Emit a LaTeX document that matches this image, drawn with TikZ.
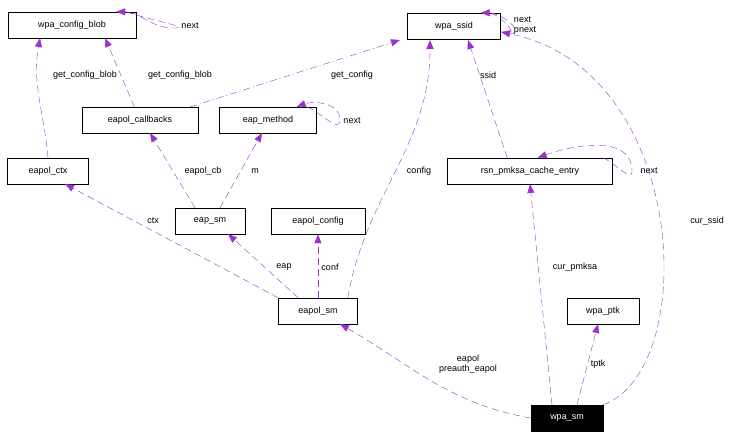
\documentclass[tikz,border=0pt]{standalone}
\usepackage{fontspec}
\setmainfont{Liberation Sans}
\usetikzlibrary{arrows.meta,positioning}
\definecolor{refColor}{HTML}{9A32CD}
\tikzset{
	cls/.style={draw, fill=white, inner sep=0pt, minimum height=26pt, font=\fontsize{9}{10}\selectfont},
	ref/.style={draw=refColor, dash pattern=on 7pt off 4pt, -{Triangle[length=9pt,width=7pt,fill=refColor]}},
	lab/.style={font=\fontsize{9}{10}\selectfont, inner sep=1pt, align=center}
}
\begin{document}
\begin{tikzpicture}[x=1pt,y=-1pt]
	\useasboundingbox (0,0) rectangle (739,437);
	% classes
	\node[cls, minimum width=128pt] (blob) at (72,25) {wpa\_config\_blob};
	\node[cls, minimum width=93pt] (ssid) at (454,26) {wpa\_ssid};
	\node[cls, minimum width=116pt] (cb) at (140,120) {eapol\_callbacks};
	\node[cls, minimum width=97pt] (method) at (268,120) {eap\_method};
	\node[cls, minimum width=81pt] (ctx) at (48,171) {eapol\_ctx};
	\node[cls, minimum width=165pt] (pmksa) at (530,171) {rsn\_pmksa\_cache\_entry};
	\node[cls, minimum width=70pt] (eapsm) at (210,221) {eap\_sm};
	\node[cls, minimum width=94pt] (conf) at (318,221) {eapol\_config};
	\node[cls, minimum width=79pt] (eapolsm) at (318,311) {eapol\_sm};
	\node[cls, minimum width=72pt] (ptk) at (603,311) {wpa\_ptk};
	\node[cls, minimum width=72pt, fill=black, text=white] (wpasm) at (567,418) {wpa\_sm};
	% self references
	\draw[ref] ([xshift=-10pt]blob.north east) to[out=-20,in=0,looseness=1] (174,28) to[out=180,in=0] ([xshift=-20pt]blob.north east);
	\draw[ref] ([xshift=-10pt]ssid.north east) to[out=-20,in=0,looseness=1] (508,34) (508,34) to[out=0,in=0,looseness=1.5] ([xshift=-20pt]ssid.north east);
	\draw[ref] ([xshift=-10pt]method.north east) to[out=-20,in=-90] (340,120) to[out=90,in=20] ([xshift=-20pt]method.north east);
	\draw[ref] ([xshift=-10pt]pmksa.north east) to[out=-20,in=-90] (632,171) to[out=90,in=20] ([xshift=-75pt]pmksa.north east);
	\node[lab] (lblob) at (190,26) {next};
	\node[lab, align=left] (lssid) at (525,26) {next\\pnext};
	\node[lab] (lmethod) at (352,121) {next};
	\node[lab] (lpmksa) at (649,171) {next};
	% references
	\draw[ref] (cb) -- (105,38);
	\draw[ref] (ctx.north) to[out=95,in=-100] (40,38);
	\draw[ref, dash pattern=on 7pt off 3pt on 1pt off 3pt] (190,107) -- (400,40);
	\draw[ref] (pmksa.north west) ++(60,0) -- (468,40);
	\draw[ref] (eapsm.north) ++(-15,0) -- (150,133);
	\draw[ref] (eapsm.north) ++(10,0) -- (262,133);
	\draw[ref] (eapolsm.north west) -- (65,184);
	\draw[ref] (eapolsm.north west) ++(20,0) -- (228,234);
	\draw[ref] (eapolsm.north) -- (conf.south);
	\draw[ref] (eapolsm.north east) ++(-10,0) to[out=80,in=-90] (430,40);
	\draw[ref] (wpasm.west) to[out=170,in=-30] (340,324);
	\draw[ref] (wpasm.north) ++(-15,0) -- (530,184);
	\draw[ref] (wpasm.north) ++(10,0) -- (598,324);
	\draw[ref] (wpasm.north east) .. controls (700,370) and (690,70) .. (501,32);
	\node[lab] (l1) at (85,75) {get\_config\_blob};
	\node[lab] (l2) at (180,75) {get\_config\_blob};
	\node[lab] (l3) at (352,75) {get\_config};
	\node[lab] (l4) at (488,75) {ssid};
	\node[lab] (l5) at (203,171) {eapol\_cb};
	\node[lab] (l6) at (255,171) {m};
	\node[lab] (l7) at (153,221) {ctx};
	\node[lab] (l8) at (284,267) {eap};
	\node[lab] (l9) at (330,267) {conf};
	\node[lab] (l10) at (419,171) {config};
	\node[lab] (l11) at (468,364) {eapol\\preauth\_eapol};
	\node[lab] (l12) at (575,267) {cur\_pmksa};
	\node[lab] (l13) at (598,364) {tptk};
	\node[lab] (l14) at (707,221) {cur\_ssid};
\end{tikzpicture}
\end{document}
